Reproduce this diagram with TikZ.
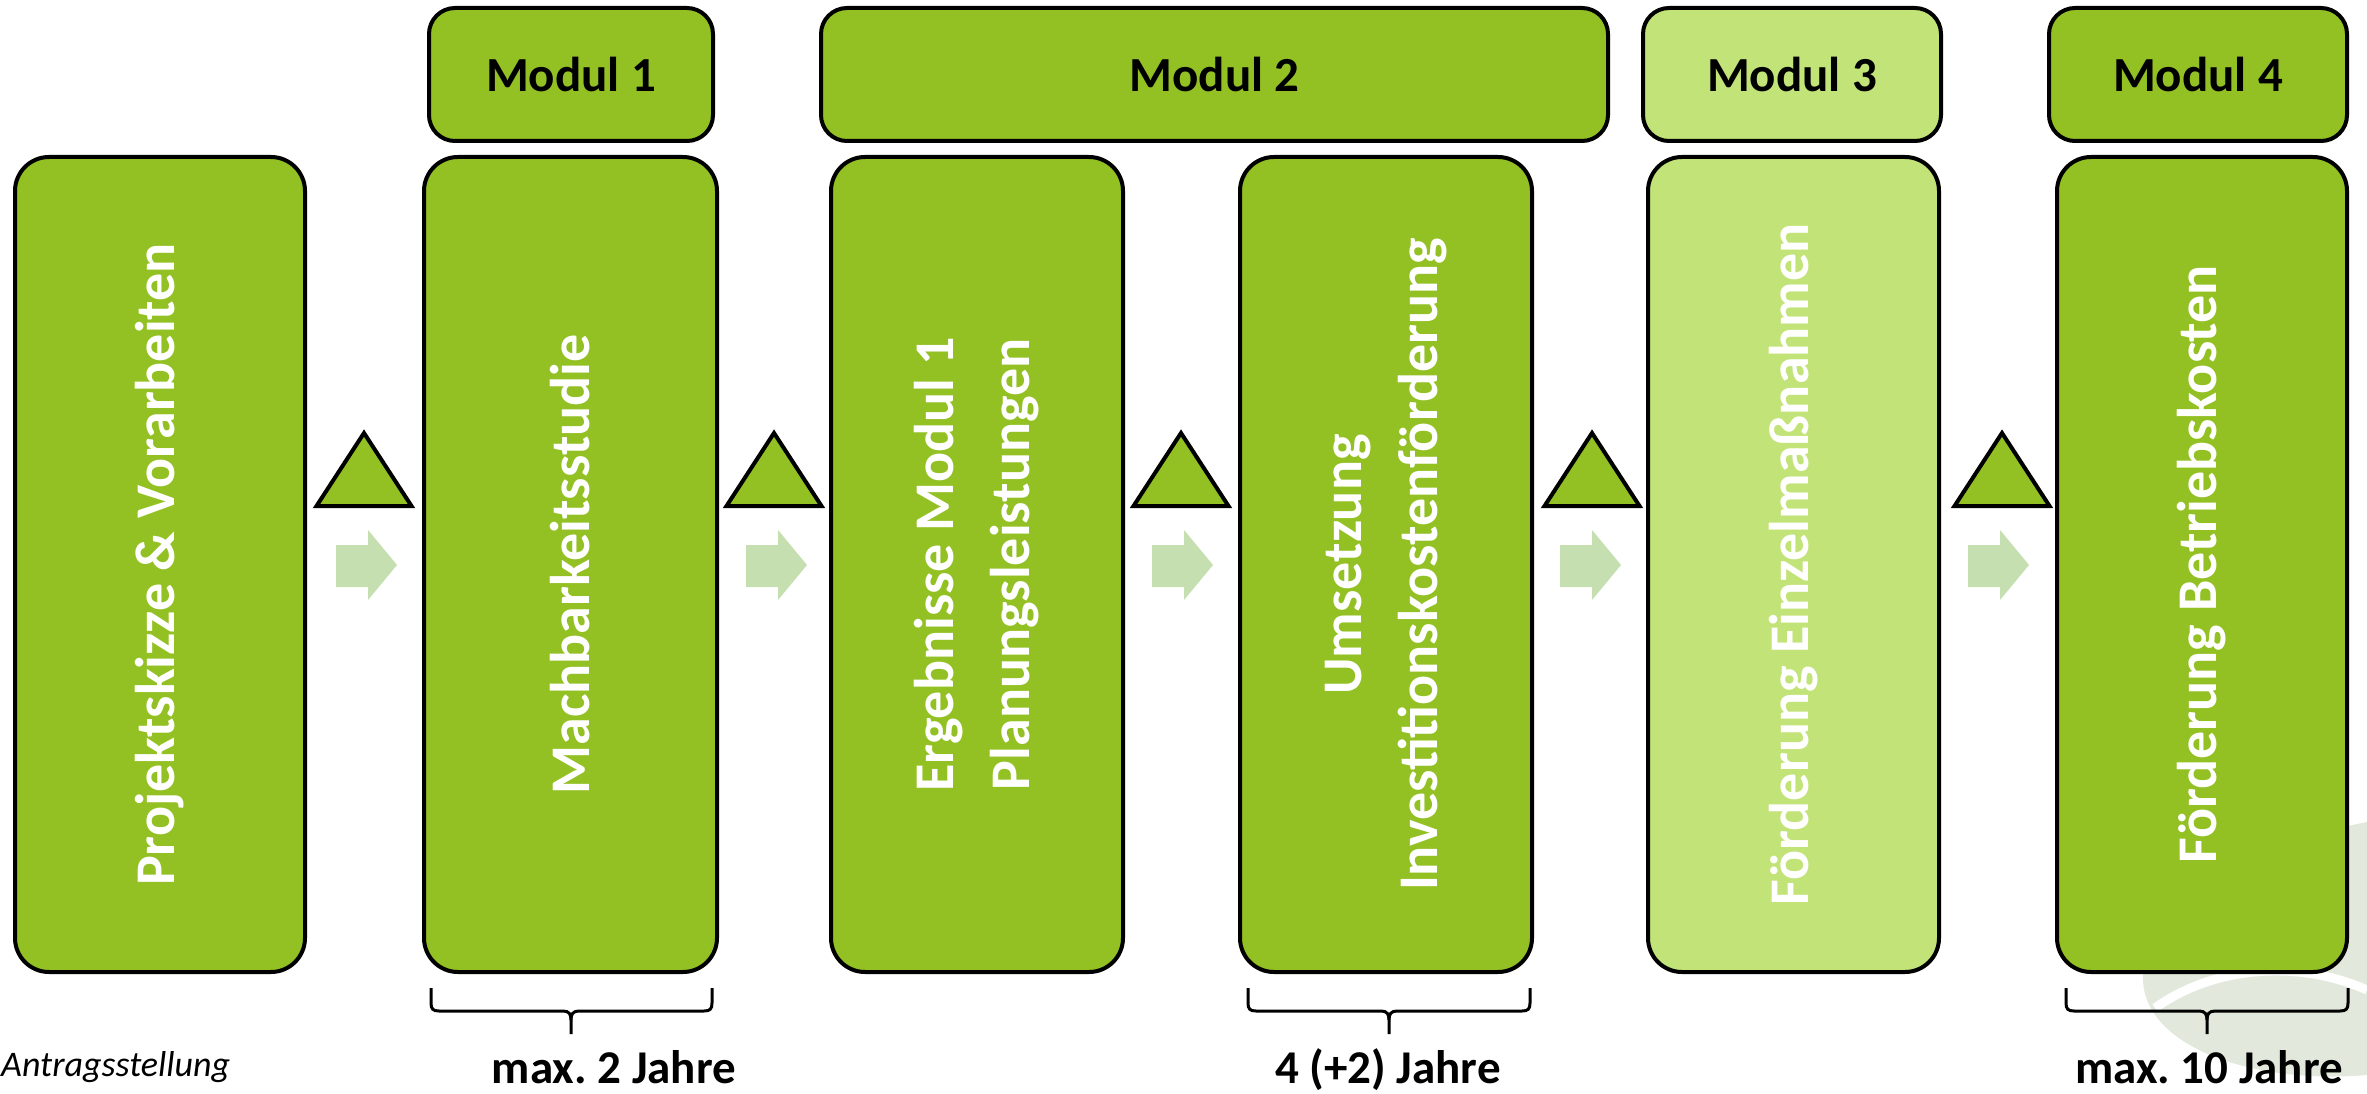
\documentclass[tikz,border=0pt]{standalone}
\usepackage{fontspec}
\setmainfont{Carlito}
\frenchspacing
\definecolor{gdark}{RGB}{147,193,36}
\definecolor{glight}{RGB}{194,227,120}
\definecolor{garrow}{RGB}{197,223,176}
\definecolor{wmark}{RGB}{226,233,220}
\newcommand\bxfont{\bfseries\fontsize{56}{76}\selectfont}
\newcommand\mdfont{\bfseries\fontsize{49}{58}\selectfont}
\newcommand\lbfont{\bfseries\fontsize{47}{56}\selectfont}
\newcommand\itfont{\itshape\fontsize{36}{44}\selectfont}
\begin{document}
\begin{tikzpicture}[x=1pt,y=-1pt,
  bigbox/.style={draw=black, line width=4pt, rounded corners=34pt, fill=gdark,
    rotate=90, minimum width=815pt, text=white, font=\bxfont, align=center, inner sep=0pt},
  modbox/.style={draw=black, line width=4pt, rounded corners=26pt, fill=gdark,
    minimum height=133pt, font=\mdfont, inner sep=0pt},
  tri/.style={draw=black, line width=4pt, fill=gdark},
  blockarrow/.style={fill=garrow, draw=none},
  bracepath/.style={draw=black, line width=3pt},
  bottomlabel/.style={font=\lbfont, anchor=base, inner sep=0pt}]
\useasboundingbox (0,0) rectangle (2367,1094);
% watermark
\begin{scope}
\clip (0,0) rectangle (2367,1094);
\fill[wmark] (2367,822) .. controls (2250,845) and (2150,900) .. (2143,975)
  .. controls (2140,1045) and (2250,1085) .. (2367,1075) -- cycle;
\draw[white, line width=9pt] (2155,1008) .. controls (2215,965) and (2300,960) .. (2367,990);
\end{scope}
% module headers
\node[modbox, minimum width=284pt] (m1) at (571,74.5) {Modul 1};
\node[modbox, minimum width=787pt] (m2) at (1214.5,74.5) {Modul 2};
\node[modbox, minimum width=298pt, fill=glight] (m3) at (1792,74.5) {Modul 3};
\node[modbox, minimum width=298pt] (m4) at (2198,74.5) {Modul 4};
% main boxes
\node[bigbox, minimum height=290pt] (proj) at (160,564.5) {Projektskizze \& Vorarbeiten};
\node[bigbox, minimum height=293pt] (mach) at (570.5,564.5) {Machbarkeitsstudie};
\node[bigbox, minimum height=292pt] (erg) at (977,564.5) {Ergebnisse Modul 1\\Planungsleistungen};
\node[bigbox, minimum height=292pt] (ums) at (1386,564.5) {Umsetzung\\Investitionskostenförderung};
\node[bigbox, minimum height=291pt, fill=glight] (einz) at (1793.5,564.5) {Förderung Einzelmaßnahmen};
\node[bigbox, minimum height=290pt] (betr) at (2202,564.5) {Förderung Betriebskosten};
% triangles and arrows
\foreach \ax in {364,774,1181,1592,2002}{
  \filldraw[tri] (\ax-47.5,506) -- (\ax,433) -- (\ax+47.5,506) -- cycle;
}
\foreach \bx in {336,746,1152,1560,1968}{
  \fill[blockarrow] (\bx,545) -- (\bx+32,545) -- (\bx+32,530) -- (\bx+61,565)
    -- (\bx+32,600) -- (\bx+32,587) -- (\bx,587) -- cycle;
}
% braces
\foreach \xa/\xm/\xb in {431/571/712, 1248/1389/1530, 2066/2207/2348}{
  \draw[bracepath] (\xa,988) -- (\xa,1003) .. controls (\xa,1009) and (\xa+2,1011) .. (\xa+8,1011)
    -- (\xm-8,1011) .. controls (\xm-2,1011) and (\xm,1014) .. (\xm,1020) -- (\xm,1034);
  \draw[bracepath] (\xb,988) -- (\xb,1003) .. controls (\xb,1009) and (\xb-2,1011) .. (\xb-8,1011)
    -- (\xm+8,1011) .. controls (\xm+2,1011) and (\xm,1014) .. (\xm,1020);
}
% labels
\node[font=\itfont, anchor=base west, inner sep=0pt] (antrag) at (1,1076) {Antragsstellung};
\node[bottomlabel] (l1) at (614,1083) {max. 2 Jahre};
\node[bottomlabel] (l2) at (1388,1083) {4 (+2) Jahre};
\node[bottomlabel] (l3) at (2209,1083) {max. 10 Jahre};
\end{tikzpicture}
\end{document}
